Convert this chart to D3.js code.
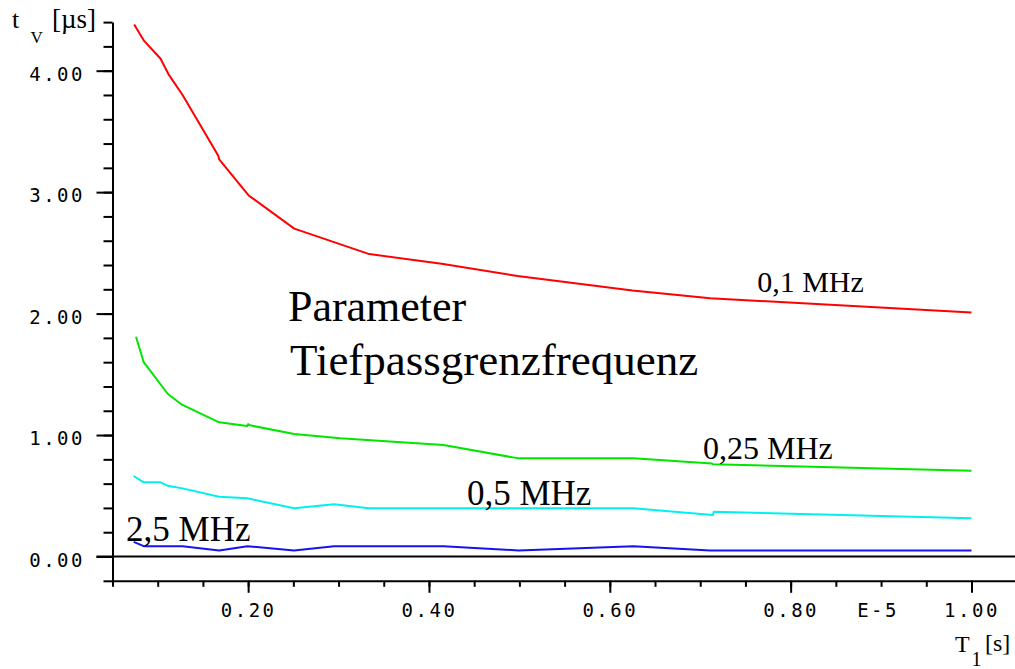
<!DOCTYPE html>
<html>
<head>
<meta charset="utf-8">
<script src="https://cdn.jsdelivr.net/npm/d3@7"></script>
<style>
  html, body { margin: 0; padding: 0; background: #fff; }
  svg { display: block; }
  .tick-label { font-family: "DejaVu Sans Mono", "Liberation Mono", monospace; font-size: 19px; letter-spacing: 2.5px; fill: #000; }
  .serif { font-family: "Liberation Serif", "Times New Roman", serif; fill: #000; }
</style>
</head>
<body>
<svg id="chart" width="1015" height="669"></svg>
<script>
// Delay time t_V [µs] versus time constant T1 (x 1e-5 s), one curve per low-pass cutoff frequency.

const t1_01MHz = [0.074, 0.0845, 0.103, 0.112, 0.1275, 0.167, 0.168, 0.201, 0.202, 0.251, 0.334, 0.414, 0.498, 0.625, 0.711, 1.0];
const tv_01MHz = [4.38, 4.25, 4.10, 3.97, 3.80, 3.30, 3.27, 2.97, 2.965, 2.70, 2.49, 2.41, 2.31, 2.19, 2.126, 2.01];

const t1_025MHz = [0.076, 0.0845, 0.111, 0.1268, 0.168, 0.199, 0.2, 0.202, 0.251, 0.302, 0.416, 0.499, 0.626, 0.713, 0.714, 1.0];
const tv_025MHz = [1.81, 1.60, 1.34, 1.25, 1.105, 1.075, 1.09, 1.08, 1.009, 0.973, 0.918, 0.808, 0.808, 0.765, 0.76, 0.706];

const t1_05MHz = [0.0734, 0.0845, 0.103, 0.112, 0.1275, 0.168, 0.1993, 0.2508, 0.295, 0.3336, 0.6263, 0.714, 0.715, 1.0];
const tv_05MHz = [0.663, 0.611, 0.611, 0.58, 0.561, 0.492, 0.479, 0.397, 0.43, 0.397, 0.397, 0.342, 0.369, 0.315];

const t1_25MHz = [0.0734, 0.0845, 0.1275, 0.168, 0.1993, 0.2508, 0.295, 0.416, 0.499, 0.626, 0.711, 1.0];
const tv_25MHz = [0.12, 0.085, 0.085, 0.05, 0.085, 0.05, 0.085, 0.085, 0.05, 0.085, 0.05, 0.05];

const seriesLabels = ["0,1 MHz", "0,25 MHz", "0,5 MHz", "2,5 MHz"];
const seriesColors = ["#ff0000", "#00e600", "#00f0f0", "#1414f0"];

const xMajorTicks = [0.2, 0.4, 0.6, 0.8, 1.0];
const xTickLabels = ["0.20", "0.40", "0.60", "0.80", "1.00"];
const yMajorTicks = [0, 1, 2, 3, 4];
const yTickLabels = ["0.00", "1.00", "2.00", "3.00", "4.00"];
const xExponentLabel = "E-5";

// Label anchors in data units (T1, t_V)
const labelAnchors = [[0.763, 2.18], [0.703, 0.80], [0.442, 0.424], [0.065, 0.13]];
const labelSizes = [30, 32, 35, 35];

const series = [
  { t1: t1_01MHz, tv: tv_01MHz },
  { t1: t1_025MHz, tv: tv_025MHz },
  { t1: t1_05MHz, tv: tv_05MHz },
  { t1: t1_25MHz, tv: tv_25MHz }
].map((s, i) => ({
  label: seriesLabels[i],
  color: seriesColors[i],
  points: s.t1.map((t, j) => [t, s.tv[j]])
}));

const svg = d3.select("#chart");
svg.append("rect").attr("width", 1015).attr("height", 669).attr("fill", "#fff");

const x = d3.scaleLinear().domain([0.05, 1.05]).range([112.5, 1016.7]);
const y = d3.scaleLinear().domain([-0.2, 4.4]).range([580.8, 22.1]);

const xMinor = d3.range(0, 21).map(i => +(0.05 + i * 0.05).toFixed(2));
const yMinor = d3.range(0, 24).map(i => +(-0.2 + i * 0.2).toFixed(2));

function styleAxis(g) {
  g.selectAll("path, line").attr("stroke", "#000").attr("stroke-width", 2);
}

// Y axis: minor ticks every 0.2, major ticks with labels every 1.0
svg.append("g")
  .attr("transform", `translate(${x(0.05)},0)`)
  .call(d3.axisLeft(y).tickValues(yMinor).tickSize(9).tickSizeOuter(0).tickFormat(""))
  .call(styleAxis);

svg.append("g")
  .attr("transform", `translate(${x(0.05)},0)`)
  .call(d3.axisLeft(y).tickValues(yMajorTicks).tickSize(16).tickSizeOuter(0).tickPadding(11.5)
        .tickFormat((d, i) => yTickLabels[i]))
  .call(styleAxis)
  .call(g => g.select(".domain").remove())
  .call(g => g.selectAll("text").attr("class", "tick-label").attr("dy", "0.5em")
        .attr("font-family", null).attr("font-size", null));

// X axis: minor ticks every 0.05, major ticks with labels every 0.2
svg.append("g")
  .attr("transform", `translate(0,${y(-0.2)})`)
  .call(d3.axisBottom(x).tickValues(xMinor).tickSize(6).tickSizeOuter(0).tickFormat(""))
  .call(styleAxis);

svg.append("g")
  .attr("transform", `translate(0,${y(-0.2)})`)
  .call(d3.axisBottom(x).tickValues(xMajorTicks).tickSize(12).tickSizeOuter(0).tickPadding(11)
        .tickFormat((d, i) => xTickLabels[i]))
  .call(styleAxis)
  .call(g => g.select(".domain").remove())
  .call(g => g.selectAll("text").attr("class", "tick-label")
        .attr("font-family", null).attr("font-size", null));

svg.append("text")
  .attr("class", "tick-label")
  .attr("x", x(0.9) - 3)
  .attr("y", y(-0.2) + 23)
  .attr("dy", "0.71em")
  .attr("text-anchor", "middle")
  .text(xExponentLabel);

// Zero reference line
svg.append("line")
  .attr("x1", x(0.05) - 16).attr("x2", x(1.05))
  .attr("y1", y(0)).attr("y2", y(0))
  .attr("stroke", "#000").attr("stroke-width", 2);

// Curves
const line = d3.line().x(d => x(d[0])).y(d => y(d[1]));
svg.append("g").selectAll("path")
  .data(series)
  .join("path")
  .attr("d", d => line(d.points))
  .attr("fill", "none")
  .attr("stroke", d => d.color)
  .attr("stroke-width", 2)
  .attr("stroke-linejoin", "round");

// Curve labels
svg.append("g").selectAll("text")
  .data(series)
  .join("text")
  .attr("class", "serif")
  .attr("x", (d, i) => x(labelAnchors[i][0]))
  .attr("y", (d, i) => y(labelAnchors[i][1]))
  .attr("font-size", (d, i) => labelSizes[i])
  .text(d => d.label);

// Parameter note
svg.append("text").attr("class", "serif")
  .attr("x", x(0.244)).attr("y", y(1.94)).attr("font-size", 44).text("Parameter");
svg.append("text").attr("class", "serif")
  .attr("x", x(0.2463)).attr("y", y(1.494)).attr("font-size", 45).text("Tiefpassgrenzfrequenz");

// Y axis title: t_V [µs]
const yTitle = svg.append("text").attr("class", "serif").attr("x", 12).attr("y", 27.5).attr("font-size", 26);
yTitle.append("tspan").text("t");
yTitle.append("tspan").attr("x", 30.5).attr("y", 42.7).attr("font-size", 17).text("V");
yTitle.append("tspan").attr("x", 52).attr("y", 27.5).attr("font-size", 27).text("[µs]");

// X axis title: T_1 [s]
const xTitle = svg.append("text").attr("class", "serif").attr("x", 955).attr("y", 651.5).attr("font-size", 24);
xTitle.append("tspan").text("T");
xTitle.append("tspan").attr("x", 971.5).attr("y", 665.5).attr("font-size", 20).text("1");
xTitle.append("tspan").attr("x", 985).attr("y", 651).attr("font-size", 24).text("[s]");
</script>
</body>
</html>
